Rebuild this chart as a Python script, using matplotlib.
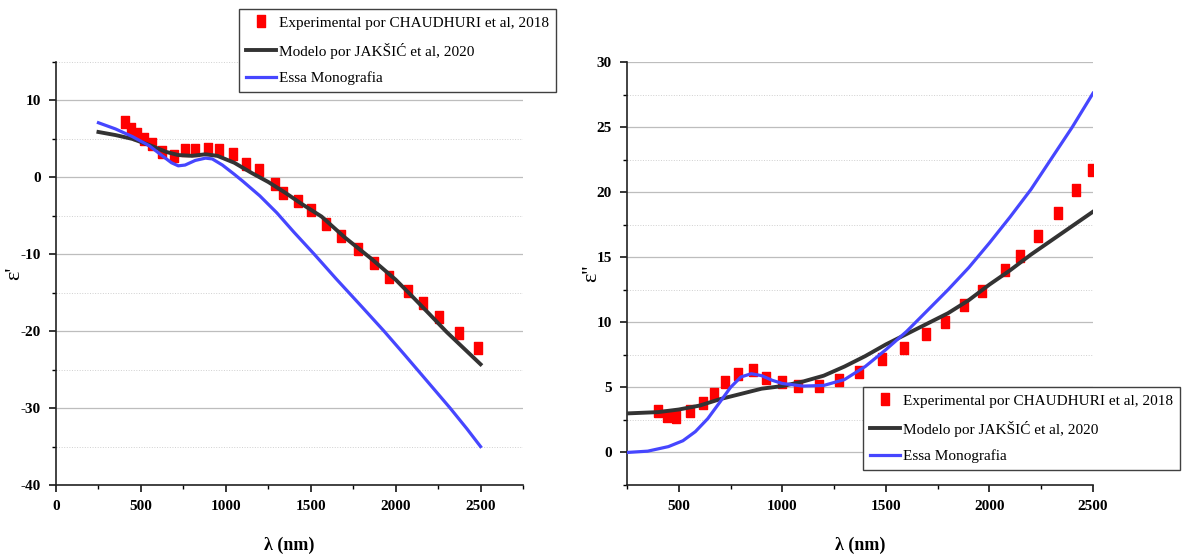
import matplotlib
matplotlib.use("Agg")
import matplotlib.pyplot as plt
from matplotlib.ticker import MultipleLocator

plt.rcParams['font.family'] = ['Liberation Serif', 'DejaVu Serif']
plt.rcParams['axes.unicode_minus'] = False

# ---- epsilon' (real part) ----
exp_re_x = [406, 444, 476, 516, 564, 627, 694, 760, 821, 896, 960, 1040, 1118, 1197,
            1290, 1338, 1427, 1500, 1589, 1679, 1778, 1871, 1963, 2075, 2163, 2256,
            2372, 2485]
exp_re_y = [7.2, 6.3, 5.6, 5.0, 4.3, 3.3, 2.8, 3.5, 3.6, 3.7, 3.6, 3.0, 1.8, 0.9,
            -0.8, -2.0, -3.1, -4.3, -6.0, -7.6, -9.3, -11.1, -12.9, -14.8, -16.4, -18.2,
            -20.3, -22.2]

mod_re_x = [250, 350, 450, 550, 650, 720, 800, 880, 950, 1050, 1150, 1250, 1350, 1450,
            1564, 1700, 1858, 2000, 2090, 2200, 2300, 2400, 2500]
mod_re_y = [5.9, 5.5, 5.0, 4.2, 3.3, 2.9, 2.8, 3.0, 2.8, 1.9, 0.6, -0.6, -2.0, -3.5,
            -5.1, -7.8, -10.6, -13.3, -15.3, -17.8, -20.1, -22.2, -24.3]

mono_re_x = [250, 350, 450, 550, 620, 680, 720, 760, 820, 880, 920, 980, 1050, 1100,
             1200, 1300, 1400, 1521, 1650, 1800, 1932, 2050, 2174, 2321, 2420, 2500]
mono_re_y = [7.1, 6.3, 5.3, 4.1, 2.9, 1.9, 1.5, 1.6, 2.2, 2.5, 2.4, 1.6, 0.4, -0.5,
             -2.4, -4.6, -7.1, -10.0, -13.2, -16.8, -20.0, -23.0, -26.2, -30.0, -32.7,
             -35.0]

# ---- epsilon'' (imaginary part) ----
exp_im_x = [401, 442, 489, 554, 616, 672, 722, 784, 858, 922, 1000, 1077, 1176, 1273,
            1369, 1481, 1586, 1694, 1787, 1879, 1963, 2075, 2146, 2233, 2332, 2420, 2495]
exp_im_y = [3.2, 2.8, 2.75, 3.15, 3.8, 4.5, 5.4, 6.0, 6.3, 5.7, 5.4, 5.1, 5.1, 5.6,
            6.2, 7.2, 8.0, 9.1, 10.0, 11.3, 12.4, 14.0, 15.1, 16.6, 18.4, 20.2, 21.7]

mod_im_x = [250, 400, 500, 600, 700, 800, 900, 1000, 1100, 1200, 1300, 1400, 1500,
            1600, 1700, 1800, 1900, 2000, 2100, 2200, 2300, 2400, 2500]
mod_im_y = [3.0, 3.1, 3.3, 3.6, 4.1, 4.5, 4.9, 5.1, 5.45, 5.9, 6.6, 7.4, 8.3,
            9.1, 9.9, 10.7, 11.7, 12.9, 14.0, 15.2, 16.3, 17.4, 18.5]

mono_im_x = [250, 350, 450, 520, 580, 640, 700, 750, 800, 850, 900, 950, 1000, 1100,
             1200, 1300, 1400, 1500, 1600, 1700, 1800, 1900, 2000, 2100, 2200, 2300,
             2400, 2500]
mono_im_y = [0.0, 0.1, 0.45, 0.9, 1.6, 2.6, 3.9, 5.0, 5.8, 6.05, 5.9, 5.55, 5.3, 5.1,
             5.15, 5.6, 6.6, 7.9, 9.3, 10.9, 12.5, 14.2, 16.1, 18.1, 20.2, 22.6,
             25.0, 27.6]

labels = ['Experimental por CHAUDHURI et al, 2018',
          'Modelo por JAKŠIĆ et al, 2020',
          'Essa Monografia']

red = '#ff0000'
dark = '#333333'
blue = '#4646ff'
rect = [(-0.33, -0.5), (0.33, -0.5), (0.33, 0.5), (-0.33, 0.5), (-0.33, -0.5)]

fig = plt.figure(figsize=(11.84, 5.56), dpi=100)
ax1 = fig.add_axes([56 / 1184, 1 - 485 / 556, 467 / 1184, 423 / 556])
ax2 = fig.add_axes([627 / 1184, 1 - 485 / 556, 466 / 1184, 423 / 556])


def draw(ax, ex, ey, mx, my, bx, by):
    ax.plot(ex, ey, linestyle='none', marker=rect, markersize=9, color=red,
            label=labels[0], zorder=2)
    ax.plot(mx, my, color=dark, lw=2.8, label=labels[1], zorder=3)
    ax.plot(bx, by, color=blue, lw=2.3, label=labels[2], zorder=3)
    for s in ['top', 'right']:
        ax.spines[s].set_visible(False)
    for s in ['left', 'bottom']:
        ax.spines[s].set_linewidth(1.2)
        ax.spines[s].set_color('#222222')
    ax.grid(True, which='major', axis='y', color='#bdbdbd', lw=0.9, ls='-')
    ax.grid(True, which='minor', axis='y', color='#d0d0d0', lw=0.7, ls=':')
    ax.set_axisbelow(True)
    ax.xaxis.set_major_locator(MultipleLocator(500))
    ax.xaxis.set_minor_locator(MultipleLocator(250))
    ax.tick_params(which='major', direction='out', length=5, width=1.1,
                   labelsize=11, pad=6)
    ax.tick_params(which='minor', direction='out', length=3, width=1.0)
    for t in ax.get_xticklabels() + ax.get_yticklabels():
        t.set_fontweight('bold')
    ax.set_xlabel('λ (nm)', fontsize=13, fontweight='bold', labelpad=17)


draw(ax1, exp_re_x, exp_re_y, mod_re_x, mod_re_y, mono_re_x, mono_re_y)
ax1.set_xlim(0, 2750)
ax1.set_ylim(-40, 15)
ax1.yaxis.set_major_locator(MultipleLocator(10))
ax1.yaxis.set_minor_locator(MultipleLocator(5))
ax1.set_ylabel("ε'", fontsize=16)
ax1.yaxis.set_label_coords(-0.068, 0.5)

draw(ax2, exp_im_x, exp_im_y, mod_im_x, mod_im_y, mono_im_x, mono_im_y)
ax2.set_xlim(250, 2500)
ax2.set_ylim(-2.5, 30)
ax2.yaxis.set_major_locator(MultipleLocator(5))
ax2.yaxis.set_minor_locator(MultipleLocator(2.5))
ax2.set_ylabel("ε''", fontsize=16)
ax2.yaxis.set_label_coords(-0.055, 0.5)

for ax, anchor in [(ax1, (239 / 1184, 1 - 9 / 556)), (ax2, (863 / 1184, 1 - 387 / 556))]:
    leg = ax.legend(loc='upper left', bbox_to_anchor=anchor, bbox_transform=fig.transFigure,
                    fontsize=11, frameon=True, fancybox=False, framealpha=1,
                    edgecolor='#404040', borderpad=0.45, labelspacing=0.85,
                    handlelength=2.0, handletextpad=0.15, borderaxespad=0,
                    markerscale=0.9)
    leg.get_frame().set_linewidth(1.0)

fig.savefig('out.png', dpi=100)
